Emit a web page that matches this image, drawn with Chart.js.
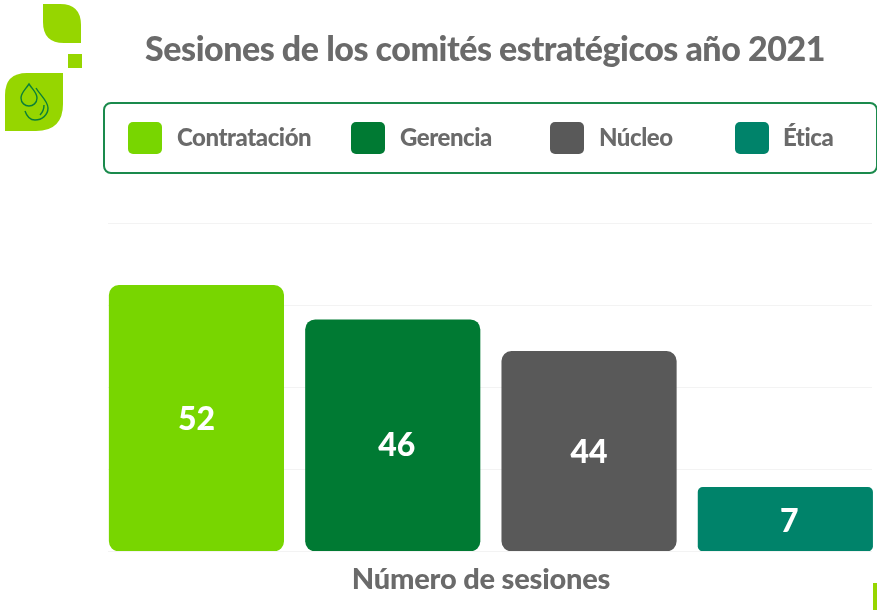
<!DOCTYPE html>
<html lang="es">
<head>
<meta charset="utf-8">
<title>Sesiones de los comités estratégicos año 2021</title>
<script src="https://cdn.jsdelivr.net/npm/chart.js@4"></script>
<style>
html, body { margin: 0; padding: 0; background: #fff; overflow: hidden; }
body { width: 877px; height: 610px; position: relative; font-family: Lato, sans-serif; font-weight: 900; color: #6a6a6a; }
#wrap { position: absolute; left: 0; top: 0; width: 900px; height: 610px; }
#title { position: absolute; left: 85px; width: 800px; top: 25px; text-align: center; font-size: 34px; line-height: 46px; letter-spacing: -0.48px; white-space: nowrap; }
#legend { position: absolute; left: 103px; top: 102px; width: 771px; height: 68px; border: 2px solid #1a8a4c; border-radius: 8px; }
.swatch { position: absolute; top: 18px; width: 34px; height: 32px; border-radius: 5px; }
.name { position: absolute; top: 17px; font-size: 24px; line-height: 32px; letter-spacing: -0.45px; white-space: nowrap; }
#xtitle { position: absolute; left: 281px; width: 400px; top: 561px; text-align: center; font-size: 29px; line-height: 34px; letter-spacing: -0.2px; }
#decor { position: absolute; left: 0; top: 0; }
#edge { position: absolute; left: 873px; top: 583px; width: 4px; height: 27px; background: #96d600; }
</style>
</head>
<body>
<div id="wrap"><canvas id="chart" width="900" height="610"></canvas></div>
<svg id="decor" width="90" height="135" viewBox="0 0 90 135">
  <path d="M43 4H60Q81 4 81 25V43H64Q43 43 43 22Z" fill="#96d600"/>
  <rect x="68" y="54" width="14" height="14" fill="#96d600"/>
  <path d="M27 73H63V104Q63 131 36 131H5V95Q5 73 27 73Z" fill="#96d600"/>
  <g fill="none" stroke="#0b7f37" stroke-width="1.4">
    <path d="M29 84C25 90 21 93 21 98C21 103 25 106 29 106C33 106 37 103 37 98C37 93 33 90 29 84Z"/>
    <path d="M36 88C40 95 48 101 48 108C48 115 42 120 35 120C30 120 27 117 25 111"/>
    <path d="M44 105C44 109 43 112 40 115"/>
  </g>
</svg>
<div id="title">Sesiones de los comités estratégicos año 2021</div>
<div id="legend"></div>
<div id="xtitle">Número de sesiones</div>
<div id="edge"></div>
<script>
const committees = ['Contratación', 'Gerencia', 'Núcleo', 'Ética'];
const sessionLabels = ['52', '46', '44', '7'];
// bar heights as drawn in the picture (on a 0-80 grid), they do not follow the printed numbers
const barHeights = [64.8, 56.4, 48.7, 15.5];
const barColors = ['#78d600', '#007a33', '#595959', '#00836a'];
const barRadius = [10, 10, 10, 5];
const gridTicks = [0, 20, 40, 60, 80];

const legendLeft = [23, 246, 445, 630];
const nameLeft = [72, 295, 494, 678];
const legendBox = document.getElementById('legend');
committees.forEach((name, i) => {
    const swatch = document.createElement('div');
    swatch.className = 'swatch';
    swatch.style.left = legendLeft[i] + 'px';
    swatch.style.background = barColors[i];
    legendBox.appendChild(swatch);
    const text = document.createElement('div');
    text.className = 'name';
    text.style.left = nameLeft[i] + 'px';
    text.textContent = name;
    legendBox.appendChild(text);
});

const softGrid = {
    id: 'softGrid',
    beforeDatasetsDraw(chart) {
        const c = chart.ctx;
        const y = chart.scales.y;
        c.save();
        c.strokeStyle = '#f3f3f3';
        c.lineWidth = 1;
        gridTicks.forEach(t => {
            const py = Math.round(y.getPixelForValue(t)) + 0.5;
            c.beginPath();
            c.moveTo(108, py);
            c.lineTo(872, py);
            c.stroke();
        });
        c.restore();
    }
};

const barText = {
    id: 'barText',
    afterDatasetsDraw(chart) {
        const c = chart.ctx;
        const meta = chart.getDatasetMeta(0);
        c.save();
        c.fillStyle = '#fff';
        c.font = '900 32px Lato, sans-serif';
        c.textAlign = 'center';
        c.textBaseline = 'middle';
        meta.data.forEach((bar, i) => {
            const mid = (bar.y + bar.base) / 2;
            c.fillText(sessionLabels[i], bar.x + [0, 4, 0, 4][i], mid + [2, 10, 2, 2][i]);
        });
        c.restore();
    }
};

new Chart(document.getElementById('chart'), {
    type: 'bar',
    data: {
        labels: committees,
        datasets: [{
            data: barHeights,
            backgroundColor: barColors,
            borderRadius: barRadius,
            borderSkipped: false,
            barThickness: 174.5
        }]
    },
    options: {
        responsive: false,
        animation: false,
        layout: { padding: { left: 98.3, right: 16.5, top: 223, bottom: 59 } },
        plugins: { legend: { display: false }, tooltip: { enabled: false } },
        scales: {
            x: { display: false },
            y: { display: false, min: 0, max: 80, ticks: { stepSize: 20 } }
        }
    },
    plugins: [softGrid, barText]
});
</script>
</body>
</html>
